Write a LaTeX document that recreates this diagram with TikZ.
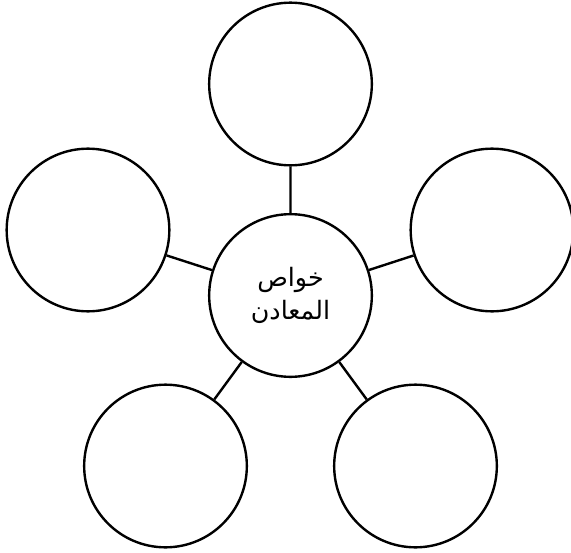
\documentclass[tikz,border=0pt]{standalone}
\usepackage{fontspec}
\newfontfamily\arabicfont[Script=Arabic]{DejaVu Sans}
\TeXXeTstate=1
\begin{document}
\begin{tikzpicture}[x=0.75pt,y=-0.75pt,
  blob/.style={draw,circle,line width=1.8pt,minimum size=122pt,inner sep=0pt},
  spoke/.style={line width=1.8pt}]
\useasboundingbox (0,0) rectangle (571,553);
\node[blob,align=center,font=\arabicfont\fontsize{19}{25}\selectfont](mid) at (290.5,295.5)
  {\beginR خواص\endR\\\beginR المعادن\endR};
\node[blob](top) at (290.5,84){};
\node[blob](lft) at (88,230){};
\node[blob](rgt) at (492,230){};
\node[blob](bl) at (165.5,466){};
\node[blob](br) at (415.5,466){};
\draw[spoke](mid)--(top) (mid)--(lft) (mid)--(rgt) (mid)--(bl) (mid)--(br);
\end{tikzpicture}
\end{document}
